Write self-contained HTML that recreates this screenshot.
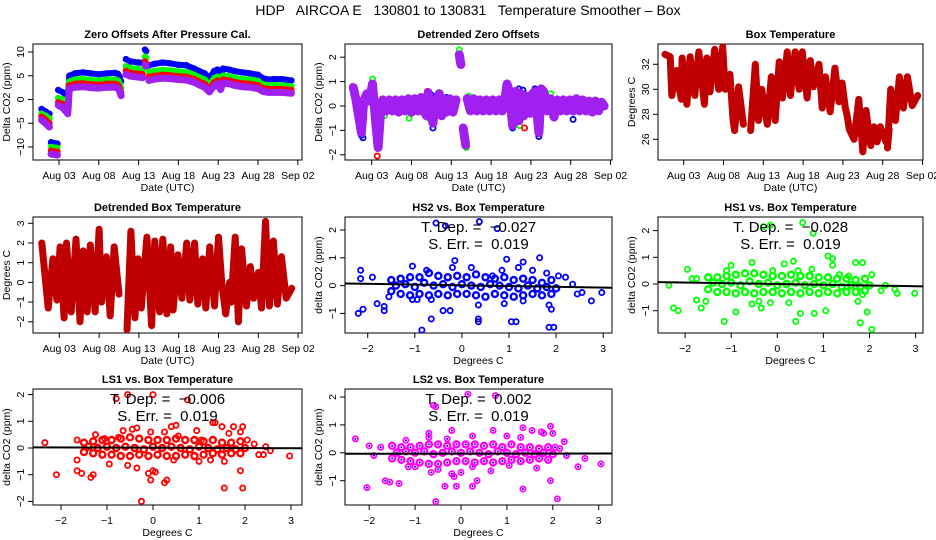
<!DOCTYPE html>
<html><head><meta charset="utf-8"><style>
html,body{margin:0;padding:0;background:#fff}
svg{display:block;font-family:"Liberation Sans",sans-serif}
</style></head><body>
<svg id="chart" width="936" height="540" viewBox="0 0 936 540">
<text x="468" y="15" text-anchor="middle" font-size="14" style="white-space:pre" xml:space="preserve">HDP   AIRCOA E   130801 to 130831   Temperature Smoother – Box</text>
</svg>
<script>
// ---------- Panel 1: zero offsets (day of month) ----------
const p1Days=[0.8,1.3,1.8,null,2.0,2.8,null,2.9,3.5,4.1,4.3,5,6,7,8,9,10,10.4,10.6,10.8,null,11.4,12,13,13.5,null,13.8,13.95,null,14.3,15,16,17,18,19,20,20.6,21.3,21.9,22.5,22.9,23.3,23.6,24.4,25,26,27,28,28.6,29.3,30,31,32.2];
const p1Blue=[-2,-2.5,-3,null,-9,-9.3,null,2,1.5,0.5,5,5.5,5.7,5.5,5.3,5.5,5.6,5.4,4.8,3.8,null,8.5,8,7.8,7.7,null,10.5,10.2,null,7.2,7.5,7.8,7.6,7.3,7.2,6.5,6,5.5,4.5,6,6.3,5,6.5,6.3,6,5.7,5.5,5.2,4.5,4.2,4.3,4.3,4];
const p1Green=[-3,-3.4,-4,null,-10,-10.2,null,0.3,0,-1,3.8,4.2,4.3,4.1,4,4.2,4.2,4,3.4,2.4,null,7,6.6,6.4,6.3,null,9,8.8,null,5.8,6,6.2,6.1,5.9,5.8,5.2,4.7,4.2,3,4.5,4.8,3.6,5,4.9,4.6,4.3,4.2,3.9,3.2,3,3,3,2.8];
const p1Red=[-3.6,-4.2,-5,null,-10.8,-11,null,-0.6,-1,-2,3,3.3,3.4,3.2,3.1,3.3,3.3,3.1,2.5,1.5,null,6,5.6,5.4,5.3,null,8,7.6,null,4.8,5,5.2,5.1,4.9,4.8,4.3,3.8,3.3,2.2,3.6,4,2.8,4.2,4,3.7,3.4,3.3,3,2.4,2.2,2.2,2.2,2];
const p1Purple=[-4.3,-5,-5.8,null,-11.5,-11.7,null,-1.2,-1.8,-3,2.2,2.6,2.7,2.5,2.4,2.6,2.6,2.4,1.8,0.8,null,5.3,4.9,4.7,4.6,null,7.3,7,null,4,4.3,4.5,4.4,4.2,4.1,3.6,3.1,2.6,1.6,2.9,3.3,2.1,3.5,3.3,3,2.7,2.6,2.3,1.7,1.5,1.5,1.5,1.3];
const dateTicks=[3,8,13,18,23,28,33];
const dateTickLabels=["Aug 03","Aug 08","Aug 13","Aug 18","Aug 23","Aug 28","Sep 02"];
// ---------- Panel 2: detrended zero offsets ----------
const p2Days=[0.7,1.0,1.3,1.7,2.0,2.4,2.7,3.1,3.4,3.8,4.1,4.4,4.8,5.2,5.6,6.0,6.4,6.8,7.2,7.6,8.0,8.4,8.8,9.2,9.6,9.9,10.1,10.4,10.7,11.0,11.5,11.8,12.0,12.4,12.8,13.2,13.6,null,14.0,14.2,null,14.5,14.8,null,15.0,15.4,15.8,16.2,16.6,17.0,17.4,17.8,18.2,18.6,19.0,19.4,19.7,20.0,20.3,20.7,21.1,21.5,21.8,22.1,22.5,22.9,23.2,23.5,24.0,24.3,24.6,25.0,25.4,25.9,26.3,26.7,27.1,27.5,27.9,28.3,28.7,29.1,29.5,29.9,30.3,30.7,31.1,31.5,31.9,32.2];
const p2Purple=[0.75,0.3,-0.3,-1.1,0.2,0.5,0.2,0.9,-0.3,-1.7,-0.3,0.25,-0.2,0.25,-0.2,0.25,-0.25,0.25,-0.2,0.3,-0.25,0.3,-0.2,0.35,-0.25,-0.4,0.55,-0.3,-0.7,0.1,0.5,-0.4,0.3,-0.25,0.3,-0.25,0.25,null,2.1,1.7,null,-0.9,-1.6,null,0.3,-0.2,0.3,-0.2,0.25,-0.2,0.25,-0.2,0.25,-0.2,0.25,-0.2,0.2,0.9,0.6,-0.8,0.6,-0.6,0.5,-0.4,0.4,-0.3,0.5,0.6,-1.1,0.7,0.6,-0.2,0.3,-0.45,0.25,-0.2,0.25,-0.2,0.25,-0.2,0.3,-0.2,0.25,-0.2,0.2,-0.25,0.2,-0.2,0.15,0.0];
const p2BlueDays=[1.7,1.9,2.5,3.9,10.5,10.7,11.5,14.7,20.7,21.5,22.0,23.5,24.0,28.3,12.4];
const p2BlueVals=[-1.2,-1.3,0.5,-1.7,0.45,-0.9,0.3,-1.5,-0.9,0.7,0.65,0.7,-1.25,-0.55,0.35];
const p2GreenDays=[1.8,3.1,3.8,4.6,7.7,10.2,11.4,14.0,14.9,15.2,21.6,25.5];
const p2GreenVals=[-0.9,1.1,-1.4,-0.4,-0.5,-0.5,0.55,2.3,-1.7,0.4,-0.8,0.5];
const p2RedDays=[0.6,1.7,2.0,3.7,3.8,10.0,14.0,21.0,22.2,24.0,24.1];
const p2RedVals=[0.8,-1.1,-0.5,-2.05,-0.5,0.6,1.8,-0.6,-0.9,-0.9,0.6];
// ---------- Panel 3: box temperature ----------
const p3Days=[0.65,1.3,1.5,2.1,2.7,2.8,3.4,3.8,4.4,4.9,5.6,5.9,6.3,6.9,7.4,7.9,8.2,8.8,9.2,9.4,9.9,10.5,null,11.4,12.0,12.4,12.8,13.5,14.0,14.5,15.0,15.4,16.0,16.4,17.0,17.5,17.9,18.5,18.9,19.3,20.0,20.4,20.8,21.4,22.0,22.5,22.9,23.3,23.5,23.8,24.4,25.0,25.5,25.9,26.5,26.9,27.3,27.7,28.4,28.8,28.6,29.0,29.6,30.1,30.6,31.1,31.7,32.4];
const p3Temp=[32.8,32.6,29.5,31.5,29.2,32.5,28.8,32.6,29.5,33,28.8,32.5,29.8,33.2,30,33.4,30,31.2,27.5,26.7,30.2,27.2,null,26.7,32,27.5,30,27.2,31,27.5,32.2,29.3,33,29.5,33,30,33,29.3,32.3,30.2,32,28.5,31,28.2,31.7,29,30.5,28.5,28,26.8,26,29.2,25,28.3,25.5,27,25.8,27,25.8,26.8,25.3,30,27.5,31,28.5,31,28.7,29.5];
// ---------- Panel 4: detrended box temperature ----------
const p4Days=[0.8,1.6,2.2,2.7,3.1,3.6,3.9,4.5,5.1,5.6,6.0,6.5,6.9,7.5,8.0,8.3,8.9,9.4,9.9,10.5,null,11.5,12.0,12.5,12.9,13.3,14.0,14.6,15.0,15.6,16.0,16.5,17.0,17.3,17.9,18.4,19.0,19.4,20.0,20.4,21.0,21.4,21.9,22.5,23.0,23.4,23.9,24.4,24.6,25.1,25.5,25.9,26.5,27.0,27.4,28.0,28.4,28.9,29.4,29.9,30.4,30.9,31.5,32.2];
const p4Temp=[2,-1.3,1.2,-0.9,1.8,-1.8,2.0,-1.5,2.2,-2.0,1.6,-1.5,1.9,-1.5,2.7,-1.0,1.3,-1.7,1.8,-0.6,null,-2.4,2.6,-1.8,1.2,-1.3,2.3,-2.2,2.1,-1.5,2.2,-1.6,1.8,-1.4,1.4,-0.8,2.0,-0.9,2.0,-1.1,1.2,-1.3,1.8,-1.2,2.3,0.0,-1.6,0.0,-1.0,2.3,-2.0,1.7,-1.2,0.8,-0.8,0.5,-1.3,3.1,-1.2,2.1,-1.1,1.3,-0.8,-0.3];
// ---------- Scatter panels (x = detrended box temperature) ----------
const clusterX=[-1.5,-1.3,-1.1,-0.9,-0.7,-0.5,-0.3,-0.1,0.1,0.3,0.5,0.7,0.9,1.1,1.3,1.5,1.7,1.9,-1.4,-1.2,-1.0,-0.8,-0.6,-0.4,-0.2,0,0.2,0.4,0.6,0.8,1.0,1.2,1.4,1.6,1.8,2.0,-1.5,-1.3,-1.1,-0.9,-0.7,-0.5,-0.3,-0.1,0.1,0.3,0.5,0.7,0.9,1.1,1.3,1.5,1.7,1.9];
const hs2ClusterY=[0.2,0.25,0.3,0.3,0.45,0.35,0.3,0.35,0.3,0.4,0.3,0.25,0.3,0.2,0.25,0.2,0.1,0.2,0.0,0.05,-0.05,0.1,0.0,0.05,-0.05,0.05,0.0,-0.05,0.05,0.0,-0.05,-0.1,0.0,-0.1,-0.05,-0.1,-0.2,-0.3,-0.35,-0.3,-0.35,-0.3,-0.35,-0.3,-0.3,-0.35,-0.4,-0.3,-0.35,-0.4,-0.35,-0.3,-0.35,-0.3];
const hs1ClusterY=[0.25,0.25,0.3,0.35,0.4,0.4,0.35,0.3,0.3,0.35,0.3,0.3,0.25,0.25,0.2,0.2,0.15,0.2,0.05,0.0,0.05,-0.05,0.1,0.0,0.05,-0.05,0.0,0.05,-0.05,0.0,-0.05,0.0,-0.1,-0.05,-0.1,-0.05,-0.2,-0.3,-0.3,-0.35,-0.3,-0.35,-0.3,-0.3,-0.35,-0.3,-0.35,-0.3,-0.35,-0.3,-0.35,-0.3,-0.3,-0.25];
const ls1ClusterY=[0.2,0.25,0.3,0.3,0.35,0.4,0.35,0.3,0.3,0.3,0.35,0.3,0.3,0.25,0.3,0.2,0.2,0.25,0.05,0.0,0.05,0.0,0.05,0.0,-0.05,0.05,0.0,0.05,0.0,-0.05,0.05,0.0,-0.05,0.0,-0.05,0.0,-0.15,-0.2,-0.25,-0.25,-0.3,-0.3,-0.25,-0.3,-0.25,-0.3,-0.3,-0.25,-0.3,-0.25,-0.2,-0.25,-0.2,-0.2];
const ls2ClusterY=[0.25,0.2,0.2,0.25,0.3,0.3,0.25,0.3,0.3,0.3,0.25,0.3,0.2,0.3,0.2,0.2,0.15,0.2,0.0,0.05,0.0,0.05,-0.05,0.0,0.05,0.0,0.05,0.0,-0.05,0.05,0.0,-0.05,0.0,-0.05,0.0,-0.05,-0.2,-0.25,-0.3,-0.35,-0.4,-0.4,-0.35,-0.3,-0.3,-0.35,-0.3,-0.35,-0.3,-0.25,-0.3,-0.25,-0.2,-0.25];
const hs2OutX=[-2.2,-2.15,-2.15,-2.1,-1.9,-1.8,-1.65,-1.65,-1.55,-1.05,-1.05,-0.95,-0.85,-0.75,-0.65,-0.65,-0.4,-0.35,-0.2,-0.25,-0.15,0.2,0.35,0.35,0.35,0.37,0.65,0.75,0.85,0.9,0.95,1.05,1.15,1.2,1.3,1.3,1.5,1.65,1.8,1.85,1.85,1.9,1.95,2.05,2.2,2.35,2.45,2.55,2.75,2.97,-0.55];
const hs2OutY=[-1.0,0.55,0.25,-0.85,0.3,-0.65,-0.75,-0.9,-0.4,0.7,-0.5,-0.5,-1.6,0.55,-1.2,-0.5,-0.9,2.15,0.65,-0.9,0.9,0.65,-0.7,-1.2,-1.3,2.3,0.35,2.05,0.55,-0.65,0.95,-1.3,-1.3,0.65,0.85,-0.55,0.55,1.0,0.45,-0.7,-1.5,-0.85,-1.5,0.35,0.3,0.05,-0.3,-0.25,-0.55,-0.25,2.25];
const hs1OutX=[-2.35,-2.25,-2.15,-1.95,-1.85,-1.75,-1.75,-1.65,-1.55,-1.15,-1.1,-1.0,-0.9,-0.9,-0.55,-0.55,-0.4,-0.35,-0.3,-0.15,-0.1,-0.15,0.15,0.25,0.35,0.4,0.45,0.5,0.55,0.75,0.8,0.78,1.05,1.1,1.2,1.2,1.35,1.55,1.7,1.75,1.8,1.85,1.85,1.95,2.05,2.05,2.25,2.35,2.55,2.6,2.98];
const hs1OutY=[-0.05,-0.9,-1.0,0.55,0.2,0.2,-0.6,-0.9,-0.65,-1.4,0.5,0.7,-1.05,0.35,0.8,-0.75,-0.65,-0.9,2.15,-0.7,0.5,2.2,0.75,-0.7,0.85,-1.4,0.5,-1.1,2.3,0.55,-1.1,1.9,-1.0,1.05,0.95,0.7,0.35,0.3,0.8,-0.65,-1.45,0.8,-0.4,-1.05,-1.7,0.35,-0.25,-0.05,-0.2,-0.35,-0.35];
const ls1OutX=[-2.35,-2.1,-1.65,-1.65,-1.65,-1.55,-1.35,-1.3,-1.25,-1.05,-0.95,-0.8,-0.75,-0.65,-0.55,-0.55,-0.45,-0.35,-0.35,-0.25,-0.05,-0.1,-0.05,0.0,0.0,0.05,0.25,0.25,0.3,0.4,0.5,0.45,0.55,0.75,0.95,1.0,1.05,1.25,1.3,1.35,1.5,1.55,1.55,1.65,1.75,1.9,1.9,1.95,1.95,2.05,2.2,2.3,2.4,2.45,2.55,2.97];
const ls1OutY=[0.2,-1.0,-0.45,-0.85,0.3,-0.95,-1.1,-1.0,0.5,0.35,-0.6,1.85,0.4,0.65,-0.65,2.0,0.7,0.75,-0.75,-2.0,0.6,-0.95,-1.2,-0.85,2.0,-0.9,0.6,-1.3,-1.2,0.8,0.85,-0.45,0.45,1.8,0.65,-0.5,0.3,-0.45,0.95,0.95,0.8,-1.5,-0.5,0.55,0.8,0.6,-0.85,-1.5,0.8,0.3,0.15,-0.25,-0.25,0.05,-0.1,-0.3];
const ls2OutX=[-2.3,-2.05,-2.0,-1.9,-1.75,-1.65,-1.55,-1.35,-1.2,-1.15,-1.0,-0.7,-0.7,-0.65,-0.6,-0.55,-0.55,-0.5,-0.35,-0.3,-0.2,-0.2,-0.15,-0.1,0.0,0.15,0.25,0.25,0.25,0.35,0.7,0.65,0.75,1.0,1.05,1.35,1.35,1.3,1.55,1.65,1.75,1.8,1.95,1.95,2.0,2.05,2.1,2.15,2.25,2.3,2.55,2.7,3.05];
const ls2OutY=[0.5,-1.25,0.25,-0.1,0.2,-1.0,-1.05,-1.1,0.45,-0.5,-0.5,0.7,0.55,-0.7,1.7,1.65,-1.75,-0.6,-1.2,0.5,0.8,-0.75,-0.85,-1.2,-0.7,2.1,0.6,-0.5,-1.2,-1.0,0.8,-0.65,2.05,0.6,-0.45,0.9,-1.3,0.55,0.8,-0.55,0.75,0.7,0.95,-1.0,0.7,0.2,-1.65,0.15,0.4,-0.1,-0.5,-0.2,-0.4];
const fitSlopes=[-0.027,-0.028,-0.006,0.002];
const fitIntercepts=[0.01,0.0,0.01,-0.03];
const tDepLabels=["T. Dep. =  \u22120.027","T. Dep. =  \u22120.028","T. Dep. =  \u22120.006","T. Dep. =  0.002"];
const sErrLabels=["S. Err. =  0.019","S. Err. =  0.019","S. Err. =  0.019","S. Err. =  0.019"];

const NS="http://www.w3.org/2000/svg";
const svg=document.getElementById('chart');
function mk(tag,parent,attrs){const e=document.createElementNS(NS,tag);for(const k in attrs)e.setAttribute(k,attrs[k]);parent.appendChild(e);return e;}

function panel(name,g,title,xlab,ylab,xTicks,xLabels,yTicks,sx,sy){
  const grp=mk('g',svg,{});
  
  
  const box=mk('rect',grp,{x:g.L,y:g.T,width:g.R-g.L,height:g.B-g.T,fill:'none',stroke:'#000','stroke-width':1});
  
  
  const t=mk('text',grp,{x:(g.L+g.R)/2,y:g.T-6,'text-anchor':'middle','font-size':11,'font-weight':'bold'});
  t.textContent=title;
  
  
  const xa=mk('g',grp,{});
  
  
  mk('line',xa,{x1:sx(xTicks[0]),x2:sx(xTicks[xTicks.length-1]),y1:g.B,y2:g.B,stroke:'#000'});
  xTicks.forEach((v,i)=>{const x=sx(v);
    mk('line',xa,{x1:x,x2:x,y1:g.B,y2:g.B+5,stroke:'#000'});
    const l=mk('text',xa,{x:x,y:g.B+19,'text-anchor':'middle','font-size':10.5});
    l.textContent=xLabels[i];
    
    
  });
  const xl=mk('text',grp,{x:(g.L+g.R)/2,y:g.B+31,'text-anchor':'middle','font-size':10.5});
  xl.textContent=xlab;
  
  
  const ya=mk('g',grp,{});
  
  
  mk('line',ya,{x1:g.L,x2:g.L,y1:sy(yTicks[0]),y2:sy(yTicks[yTicks.length-1]),stroke:'#000'});
  yTicks.forEach(v=>{const y=sy(v);
    mk('line',ya,{x1:g.L-5,x2:g.L,y1:y,y2:y,stroke:'#000'});
    const lx=g.L-9;
    const l=mk('text',ya,{x:lx,y:y,'text-anchor':'middle','font-size':10.5,transform:`rotate(-90 ${lx} ${y})`});
    l.textContent=String(v).replace('-','\u2212');
    
    
  });
  const yx=g.L-23,yy=(g.T+g.B)/2;
  const yl=mk('text',grp,{x:yx,y:yy,'text-anchor':'middle','font-size':10.5,transform:`rotate(-90 ${yx} ${yy})`});
  yl.textContent=ylab;
  
  
  return grp;
}

function series(grp,name,days,vals,sx,sy,color,width,r){
  const s=mk('g',grp,{});
  
  
  let d='',pen=false;
  for(let i=0;i<vals.length;i++){
    if(vals[i]===null||days[i]===null){pen=false;continue;}
    d+=(pen?'L':'M')+sx(days[i]).toFixed(1)+' '+sy(vals[i]).toFixed(1)+' ';pen=true;
  }
  mk('path',s,{d:d,fill:'none',stroke:color,'stroke-width':width,'stroke-linejoin':'round','stroke-linecap':'round'});
  for(let i=0;i<vals.length;i++){
    if(vals[i]===null||days[i]===null)continue;
    const c=mk('circle',s,{cx:sx(days[i]),cy:sy(vals[i]),r:r,fill:'none',stroke:color,'stroke-width':1.5});
    
    
  }
}
function points(grp,name,xs,ys,sx,sy,color,inner,rr,sw){
  const s=mk('g',grp,{});
  
  
  for(let i=0;i<xs.length;i++){
    const c=mk('circle',s,{cx:sx(xs[i]),cy:sy(ys[i]),r:rr||2.6,fill:'none',stroke:color,'stroke-width':sw||1.8});
    
    
    if(inner){mk('circle',s,{cx:sx(xs[i]),cy:sy(ys[i]),r:1,fill:inner});}
  }
}

const dayScale=(x0)=>d=>x0+(d-3)*7.96;
const PURPLE='#a020f0';

// Panel 1
{const g={L:33,R:302,T:44,B:160};const sx=dayScale(59),sy=v=>99.5-v*4.75;
 const p=panel('zero-offsets',g,'Zero Offsets After Pressure Cal.','Date (UTC)','Delta CO2 (ppm)',dateTicks,dateTickLabels,[-10,-5,0,5,10],sx,sy);
 series(p,'blue-series',p1Days,p1Blue,sx,sy,'#0000ff',6,2.5);
 series(p,'green-series',p1Days,p1Green,sx,sy,'#00ff00',6,2.5);
 series(p,'red-series',p1Days,p1Red,sx,sy,'#ff0000',6,2.5);
 series(p,'purple-series',p1Days,p1Purple,sx,sy,PURPLE,7,2.5);}
// Panel 2
{const g={L:345,R:612,T:44,B:160};const sx=dayScale(371.7),sy=v=>106-v*24.4;
 const p=panel('detrended-zero-offsets',g,'Detrended Zero Offsets','Date (UTC)','Delta CO2 (ppm)',dateTicks,dateTickLabels,[-2,-1,0,1,2],sx,sy);
 points(p,'blue-points',p2BlueDays,p2BlueVals,sx,sy,'#0000ff');
 points(p,'green-points',p2GreenDays,p2GreenVals,sx,sy,'#00ff00');
 points(p,'red-points',p2RedDays,p2RedVals,sx,sy,'#ff0000');
 series(p,'purple-series',p2Days,p2Purple,sx,sy,PURPLE,9,2.5);}
// Panel 3
{const g={L:658,R:923,T:44,B:160};const sx=dayScale(683.7),sy=v=>89.3-(v-30)*12.5;
 const p=panel('box-temperature',g,'Box Temperature','Date (UTC)','Degrees C',dateTicks,dateTickLabels,[26,28,30,32],sx,sy);
 series(p,'box-temp-series',p3Days,p3Temp,sx,sy,'#c00000',7,2.3);}
// Panel 4
{const g={L:33,R:302,T:217,B:333};const sx=dayScale(59.3),sy=v=>282.4-v*19.7;
 const p=panel('detrended-box-temperature',g,'Detrended Box Temperature','Date (UTC)','Degrees C',dateTicks,dateTickLabels,[-2,-1,0,1,2,3],sx,sy);
 series(p,'detrended-temp-series',p4Days,p4Temp,sx,sy,'#c00000',7,2.3);}
// Scatter panels
const scat=[
 {name:'hs2-vs-temp',title:'HS2 vs. Box Temperature',g:{L:345,R:612,T:217,B:333},x0:461.9,kx:47.1,y0:285.6,ky:27.8,yt:[-1,0,1,2],cy:hs2ClusterY,ox:hs2OutX,oy:hs2OutY,color:'#0000ff',inner:null,ylab:'delta CO2 (ppm)'},
 {name:'hs1-vs-temp',title:'HS1 vs. Box Temperature',g:{L:658,R:923,T:217,B:333},x0:777.3,kx:46.1,y0:284,ky:26.7,yt:[-1,0,1,2],cy:hs1ClusterY,ox:hs1OutX,oy:hs1OutY,color:'#00ff00',inner:null,ylab:'delta CO2 (ppm)'},
 {name:'ls1-vs-temp',title:'LS1 vs. Box Temperature',g:{L:33,R:302,T:389,B:505},x0:153,kx:46,y0:448,ky:26.7,yt:[-2,-1,0,1,2],cy:ls1ClusterY,ox:ls1OutX,oy:ls1OutY,color:'#ff0000',inner:null,ylab:'delta CO2 (ppm)'},
 {name:'ls2-vs-temp',title:'LS2 vs. Box Temperature',g:{L:345,R:612,T:389,B:505},x0:461,kx:45.9,y0:452.8,ky:27.9,yt:[-1,0,1,2],cy:ls2ClusterY,ox:ls2OutX,oy:ls2OutY,color:'#ff00ff',inner:'#0000ff',ylab:'delta CO2 (ppm)'}
];
scat.forEach((c,i)=>{
  const sx=v=>c.x0+v*c.kx, sy=v=>c.y0-v*c.ky;
  const p=panel(c.name,c.g,c.title,'Degrees C',c.ylab,[-2,-1,0,1,2,3],['\u22122','\u22121','0','1','2','3'],c.yt,sx,sy);
  points(p,'cluster-points',clusterX,c.cy,sx,sy,c.color,c.inner,3,2.4);
  points(p,'outlier-points',c.ox,c.oy,sx,sy,c.color,c.inner);
  const xa=(c.g.L-c.x0)/c.kx, xb=(c.g.R-c.x0)/c.kx;
  const fl=mk('line',p,{x1:c.g.L,x2:c.g.R,y1:sy(fitIntercepts[i]+fitSlopes[i]*xa),y2:sy(fitIntercepts[i]+fitSlopes[i]*xb),stroke:'#000','stroke-width':2});
  
  
  const cx=(c.g.L+c.g.R)/2;
  const t1=mk('text',p,{x:cx,y:c.g.T+15,'text-anchor':'middle','font-size':15,'xml:space':'preserve',style:'white-space:pre'});
  t1.textContent=tDepLabels[i];
  
  
  const t2=mk('text',p,{x:cx,y:c.g.T+32,'text-anchor':'middle','font-size':15,style:'white-space:pre'});
  t2.textContent=sErrLabels[i];
  
  
});
</script>
</body></html>
